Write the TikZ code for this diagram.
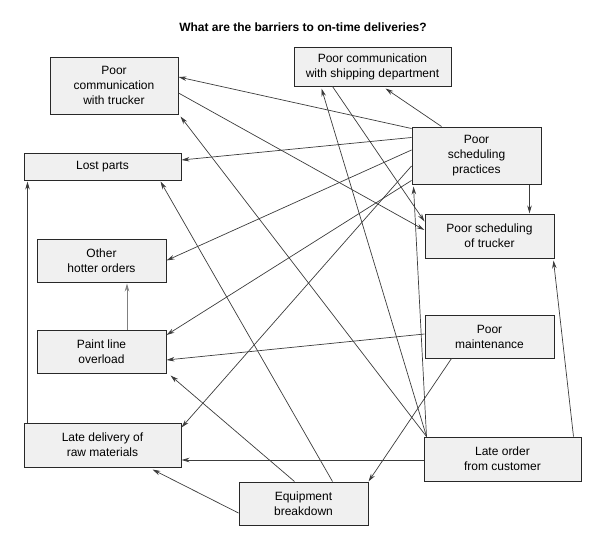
\documentclass[tikz,border=0pt]{standalone}
\usepackage{fontspec}
\setmainfont{Liberation Sans}
\usepackage{tikz}
\usetikzlibrary{arrows.meta}
\definecolor{CajaFondo}{RGB}{240,240,240}
\definecolor{CajaBorde}{RGB}{40,40,40}
\definecolor{Linea}{RGB}{60,60,60}

\begin{document}
\begin{tikzpicture}[x=1pt, y=-1pt, >={Stealth[length=8pt, width=4.5pt]},
  font=\fontsize{12}{15}\selectfont,
  caja/.style={rectangle, draw=CajaBorde, fill=CajaFondo, line width=1pt, inner sep=0pt, align=center},
  flecha/.style={->, draw=Linea, line width=0.7pt}]
  \useasboundingbox (0,0) rectangle (592,538);
  \node[font=\fontsize{12}{15}\selectfont\bfseries] (titulo) at (303,27) {What are the barriers to on-time deliveries?};
  % causas y efectos
  \node[caja, minimum width=128pt, minimum height=57pt] (pct) at (114,85.5) {Poor\\communication\\with trucker};
  \node[caja, minimum width=157pt, minimum height=27pt] (lp) at (102.5,166.5) {Lost parts};
  \node[caja, minimum width=157pt, minimum height=39pt] (pcs) at (372.5,66.5) {Poor communication\\with shipping department};
  \node[caja, minimum width=129pt, minimum height=57pt] (psp) at (476.5,155.5) {Poor\\scheduling\\practices};
  \node[caja, minimum width=129pt, minimum height=44pt] (pst) at (489.5,236) {Poor scheduling\\of trucker};
  \node[caja, minimum width=129pt, minimum height=43pt] (oho) at (101.5,260.5) {Other\\hotter orders};
  \node[caja, minimum width=129pt, minimum height=43pt] (plo) at (101.5,351.5) {Paint line\\overload};
  \node[caja, minimum width=129pt, minimum height=43pt] (pm) at (489.5,336.5) {Poor\\maintenance};
  \node[caja, minimum width=157pt, minimum height=44pt] (loc) at (502.5,459) {Late order\\from customer};
  \node[caja, minimum width=129pt, minimum height=43pt] (eb) at (303.5,503.5) {Equipment\\breakdown};
  \node[caja, minimum width=157pt, minimum height=44pt] (ldrm) at (102.5,445) {Late delivery of\\raw materials};
  % desde Poor scheduling practices
  \draw[flecha] ([yshift=-2pt]psp.north west) -- ([yshift=8.5pt]pct.east);
  \draw[flecha] ([yshift=-11pt]psp.north west) -- ([yshift=6.5pt]lp.east);
  \draw[flecha] ([xshift=30pt]psp.north west) -- ([xshift=92pt, yshift=-2pt]pcs.south west);
  \draw[flecha] ([xshift=-12pt]psp.south east) -- ([xshift=-25pt]pst.north east);
  \draw[flecha] ([yshift=5.5pt]psp.west) -- (oho.east);
  \draw[flecha] ([yshift=4pt]psp.south west) -- ([yshift=16.5pt]plo.east);
  \draw[flecha] ([yshift=-10.5pt]psp.west) -- ([yshift=-5pt]ldrm.north east);
  % comunicacion
  \draw[flecha] ([yshift=-7.5pt]pct.east) -- ([yshift=6pt]pst.west);
  \draw[flecha] ([xshift=39pt]pcs.south west) -- ([yshift=-8pt]pst.north west);
  % desde Late order from customer
  \draw[flecha] ([xshift=3pt]loc.north west) -- ([xshift=28pt, yshift=-2pt]pcs.south west);
  \draw[flecha] ([xshift=3pt]loc.north west) -- ([xshift=2pt, yshift=-2pt]psp.south west);
  \draw[flecha] ([xshift=3pt]loc.north west) -- ([xshift=2pt, yshift=-2pt]pct.south east);
  \draw[flecha] ([yshift=-1pt]loc.west) -- ([yshift=-15pt]ldrm.east);
  \draw[flecha] ([xshift=-8pt]loc.north east) -- ([xshift=-1pt, yshift=-2pt]pst.south east);
  % desde Poor maintenance
  \draw[flecha] ([yshift=2.5pt]pm.west) -- ([yshift=-8.5pt]plo.east);
  \draw[flecha] ([xshift=27pt]pm.south west) -- (eb.north east);
  % desde Equipment breakdown
  \draw[flecha] ([xshift=94pt]eb.north west) -- ([xshift=-21pt, yshift=-1pt]lp.south east);
  \draw[flecha] ([xshift=56pt]eb.north west) -- ([xshift=4pt, yshift=-2pt]plo.south east);
  \draw[flecha] ([yshift=-9.5pt]eb.west) -- ([xshift=50pt, yshift=-2pt]ldrm.south);
  % resto
  \draw[flecha] ([xshift=4pt]ldrm.north west) -- ([xshift=4pt, yshift=-1pt]lp.south west);
  \draw[flecha, draw=gray] ([xshift=25.5pt]plo.north) -- ([xshift=25.5pt, yshift=-1pt]oho.south);
\end{tikzpicture}
\end{document}
